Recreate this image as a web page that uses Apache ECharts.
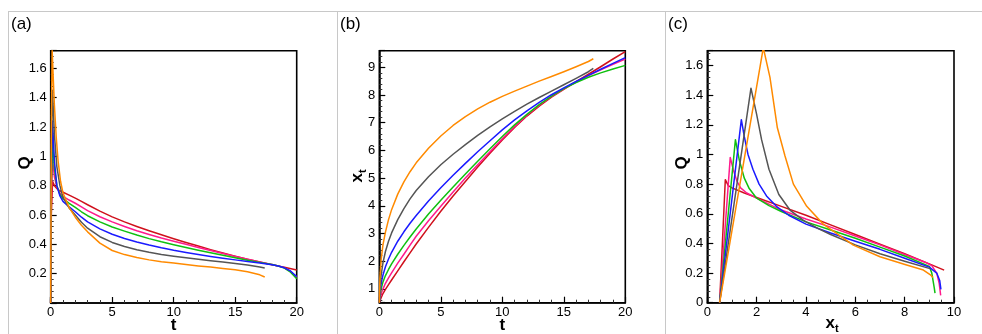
<!DOCTYPE html>
<html>
<head>
<meta charset="utf-8">
<script src="https://cdn.jsdelivr.net/npm/echarts@6/dist/echarts.min.js"></script>
<style>
html,body{margin:0;padding:0;background:#fff;}
#chart{width:982px;height:334px;}
</style>
</head>
<body>
<div id="chart"></div>
<script>
// ---------- Panel (a): Q vs t ----------
const aRedT   = [0,0.05,0.15,0.3,0.5,0.75,1,1.5,2,2.5,3,4,5,6,7,8,9,10,11,12,13,14,15,16,17,18,19,20];
const aRedQ   = [0,0.6,0.83,0.8,0.78,0.765,0.755,0.735,0.715,0.693,0.67,0.626,0.587,0.553,0.522,0.493,0.465,0.438,0.412,0.388,0.364,0.341,0.319,0.298,0.279,0.26,0.243,0.225];
const aLongT  = [0,0.05,0.15,0.3,0.5,0.75,1,1.5,2,2.5,3,4,5,6,7,8,9,10,11,12,13,14,15,16,17,18,18.5,19,19.5,20];
const aPinkQ  = [0,0.7,0.98,0.86,0.79,0.75,0.727,0.702,0.68,0.655,0.63,0.588,0.553,0.522,0.493,0.467,0.443,0.421,0.4,0.379,0.358,0.337,0.317,0.298,0.28,0.263,0.253,0.24,0.215,0.175];
const aGreenQ = [0,0.8,1.1,0.92,0.8,0.74,0.712,0.68,0.652,0.622,0.595,0.553,0.518,0.49,0.463,0.439,0.417,0.397,0.378,0.36,0.342,0.325,0.308,0.292,0.277,0.262,0.252,0.238,0.21,0.165];
const aBlueQ  = [0,0.9,1.24,0.97,0.8,0.73,0.693,0.655,0.622,0.585,0.553,0.505,0.469,0.44,0.416,0.395,0.376,0.359,0.344,0.33,0.317,0.305,0.294,0.283,0.272,0.26,0.252,0.24,0.218,0.18];
const aGrayT  = [0,0.05,0.15,0.3,0.5,0.75,1,1.5,2,2.5,3,4,5,6,7,8,9,10,11,12,13,14,15,16,17,17.4];
const aGrayQ  = [0,1.0,1.45,1.15,0.93,0.8,0.72,0.648,0.6,0.55,0.51,0.452,0.413,0.385,0.363,0.346,0.331,0.319,0.308,0.298,0.288,0.279,0.27,0.259,0.245,0.238];
const aOrangeT = [0,0.05,0.12,0.2,0.3,0.45,0.6,0.8,1,1.5,2,2.5,3,4,5,6,7,8,9,10,11,12,13,14,15,16,17,17.4];
const aOrangeQ = [0,1.2,1.72,1.55,1.35,1.13,0.97,0.83,0.75,0.65,0.585,0.53,0.485,0.408,0.358,0.33,0.31,0.294,0.282,0.272,0.262,0.253,0.245,0.236,0.226,0.213,0.192,0.177];

// ---------- Panel (b): x_t vs t ----------
const bT       = [0,0.05,0.15,0.3,0.5,0.75,1,1.5,2,2.5,3,4,5,6,7,8,9,10,11,12,13,14,15,16,17,18,19,20];
const bRedX    = [0.5,0.56,0.68,0.83,0.98,1.15,1.32,1.65,1.98,2.3,2.62,3.22,3.8,4.35,4.88,5.4,5.9,6.38,6.83,7.24,7.6,7.92,8.2,8.48,8.75,9.02,9.3,9.57];
const bPinkX   = [0.5,0.65,0.82,1.0,1.2,1.4,1.58,1.93,2.25,2.58,2.9,3.46,3.98,4.5,5.0,5.48,5.95,6.42,6.86,7.27,7.63,7.95,8.22,8.47,8.7,8.91,9.11,9.3];
const bGreenX  = [0.5,0.75,1.0,1.25,1.48,1.7,1.9,2.25,2.57,2.87,3.16,3.7,4.2,4.68,5.15,5.61,6.06,6.5,6.92,7.3,7.65,7.96,8.23,8.45,8.64,8.8,8.94,9.07];
const bBlueX   = [0.5,0.85,1.2,1.5,1.8,2.08,2.32,2.72,3.06,3.37,3.65,4.17,4.65,5.1,5.53,5.95,6.35,6.74,7.1,7.43,7.73,8.01,8.26,8.49,8.71,8.93,9.14,9.35];
const bShortT  = [0,0.05,0.15,0.3,0.5,0.75,1,1.5,2,2.5,3,4,5,6,7,8,9,10,11,12,13,14,15,16,17,17.4];
const bGrayX   = [0.5,1.0,1.5,1.95,2.35,2.72,3.02,3.5,3.9,4.25,4.55,5.05,5.48,5.86,6.21,6.54,6.85,7.14,7.41,7.67,7.91,8.14,8.37,8.6,8.84,8.96];
const bOrangeX = [0.5,1.4,2.05,2.6,3.05,3.5,3.86,4.42,4.86,5.23,5.55,6.08,6.52,6.9,7.22,7.5,7.74,7.95,8.14,8.32,8.5,8.67,8.84,9.02,9.21,9.31];

// ---------- Panel (c): Q vs x_t ----------
const cRedX    = [0.5,0.73,0.85,1.0,1.5,2,3,4,5,6,7,8,9,9.6];
const cRedQ    = [0,0.83,0.79,0.775,0.74,0.71,0.65,0.59,0.525,0.46,0.395,0.33,0.262,0.22];
const cPinkX   = [0.5,0.93,1.05,1.2,1.35,1.6,2,3,4,5,6,7,8,8.8,9.1,9.3,9.4,9.46];
const cPinkQ   = [0,0.98,0.9,0.82,0.775,0.74,0.705,0.625,0.565,0.51,0.45,0.39,0.325,0.275,0.25,0.2,0.13,0.05];
const cGreenX  = [0.5,1.14,1.3,1.5,1.7,2,2.5,3,4,5,6,7,8,9.0,9.1,9.2,9.23];
const cGreenQ  = [0,1.1,0.96,0.84,0.77,0.705,0.655,0.615,0.545,0.49,0.435,0.375,0.315,0.245,0.2,0.1,0.065];
const cBlueX   = [0.5,1.38,1.5,1.65,1.85,2.1,2.4,2.8,3.3,4,5,6,7,8,9.0,9.3,9.42,9.47];
const cBlueQ   = [0,1.235,1.12,1.0,0.9,0.8,0.72,0.65,0.59,0.53,0.47,0.415,0.36,0.3,0.24,0.2,0.15,0.09];
const cGrayX   = [0.5,1.77,2.0,2.2,2.5,2.9,3.35,3.9,4.5,5,6,7,8,9.03];
const cGrayQ   = [0,1.447,1.27,1.1,0.9,0.73,0.625,0.555,0.5,0.46,0.39,0.33,0.28,0.23];
const cOrangeX = [0.5,2.27,2.54,2.84,3.15,3.49,4.03,4.7,5.24,5.92,7.0,8.08,8.76,9.03,9.15];
const cOrangeQ = [0,1.72,1.52,1.18,0.99,0.80,0.65,0.53,0.467,0.388,0.31,0.254,0.22,0.19,0.17];

const colors = {red:'#d0101c', pink:'#ff1a8c', green:'#10c010', blue:'#1a1aff', gray:'#555555', orange:'#ff8a00'};
const FONT = '"Liberation Sans", Arial, sans-serif';

function pairs(xs, ys){ return xs.map((v,i)=>[v, ys[i]]); }

const chart = echarts.init(document.getElementById('chart'), null, {renderer:'canvas'});

function axisBase(gi, extra){
  return Object.assign({
    type:'value', gridIndex:gi,
    axisLine:{show:true, onZero:false, lineStyle:{color:'#000', width:1.5}},
    axisTick:{show:true, inside:true, length:6, lineStyle:{color:'#000', width:1.2}},
    minorTick:{show:true, splitNumber:5, length:3, lineStyle:{color:'#333', width:1}},
    splitLine:{show:false},
    axisLabel:{color:'#000', fontSize:13, fontFamily:FONT, margin:3}
  }, extra);
}

function mkSeries(name, gi, data, color){
  return {
    type:'line', name, xAxisIndex:gi, yAxisIndex:gi, data,
    showSymbol:false, symbol:'none', smooth:false,
    lineStyle:{color, width:1.5, join:'round'}, itemStyle:{color}, clip:true,
    animation:false, z:2
  };
}

const grids = [
  {left:50.7, top:50.7, width:246, height:252.3},
  {left:379.3, top:50.7, width:246, height:252},
  {left:707.3, top:50.7, width:246.7, height:252}
].map(g => Object.assign({show:true, borderColor:'#000', borderWidth:1.6, backgroundColor:'transparent', containLabel:false}, g));

const option = {
  animation:false,
  backgroundColor:'#fff',
  grid: grids,
  xAxis:[
    axisBase(0,{min:0,max:20,interval:5}),
    axisBase(1,{min:0,max:20,interval:5}),
    axisBase(2,{min:0,max:10,interval:2, minorTick:{show:true, splitNumber:4, length:3, lineStyle:{color:'#333', width:1}}})
  ],
  yAxis:[
    axisBase(0,{min:0,max:1.72,interval:0.2, axisLabel:{color:'#000', fontSize:13, fontFamily:FONT, margin:4, showMaxLabel:false, formatter:v=> v===0 ? '' : String(v)}}),
    axisBase(1,{min:0.5,max:9.6,splitNumber:9, axisLabel:{color:'#000', fontSize:13, fontFamily:FONT, margin:4, showMinLabel:false, showMaxLabel:false}}),
    axisBase(2,{min:0,max:1.7,interval:0.2, axisLabel:{color:'#000', fontSize:13, fontFamily:FONT, margin:4, showMaxLabel:false}})
  ],
  series:[
    mkSeries('a-red',0,pairs(aRedT,aRedQ),colors.red),
    mkSeries('a-pink',0,pairs(aLongT,aPinkQ),colors.pink),
    mkSeries('a-green',0,pairs(aLongT,aGreenQ),colors.green),
    mkSeries('a-blue',0,pairs(aLongT,aBlueQ),colors.blue),
    mkSeries('a-gray',0,pairs(aGrayT,aGrayQ),colors.gray),
    mkSeries('a-orange',0,pairs(aOrangeT,aOrangeQ),colors.orange),

    mkSeries('b-red',1,pairs(bT,bRedX),colors.red),
    mkSeries('b-pink',1,pairs(bT,bPinkX),colors.pink),
    mkSeries('b-green',1,pairs(bT,bGreenX),colors.green),
    mkSeries('b-blue',1,pairs(bT,bBlueX),colors.blue),
    mkSeries('b-gray',1,pairs(bShortT,bGrayX),colors.gray),
    mkSeries('b-orange',1,pairs(bShortT,bOrangeX),colors.orange),

    mkSeries('c-red',2,pairs(cRedX,cRedQ),colors.red),
    mkSeries('c-pink',2,pairs(cPinkX,cPinkQ),colors.pink),
    mkSeries('c-green',2,pairs(cGreenX,cGreenQ),colors.green),
    mkSeries('c-blue',2,pairs(cBlueX,cBlueQ),colors.blue),
    mkSeries('c-gray',2,pairs(cGrayX,cGrayQ),colors.gray),
    mkSeries('c-orange',2,pairs(cOrangeX,cOrangeQ),colors.orange)
  ],
  graphic:[
    {type:'line', silent:true, shape:{x1:8,y1:11.5,x2:982,y2:11.5}, style:{stroke:'#c8c8c8', lineWidth:1}},
    {type:'line', silent:true, shape:{x1:8.5,y1:11,x2:8.5,y2:334}, style:{stroke:'#c8c8c8', lineWidth:1}},
    {type:'line', silent:true, shape:{x1:337.5,y1:11,x2:337.5,y2:334}, style:{stroke:'#c8c8c8', lineWidth:1}},
    {type:'line', silent:true, shape:{x1:665.5,y1:11,x2:665.5,y2:334}, style:{stroke:'#c8c8c8', lineWidth:1}},

    {type:'text', silent:true, x:11, y:16, style:{text:'(a)', font:'17px '+FONT, fill:'#000', verticalAlign:'top'}},
    {type:'text', silent:true, x:340, y:16, style:{text:'(b)', font:'17px '+FONT, fill:'#000', verticalAlign:'top'}},
    {type:'text', silent:true, x:668, y:16, style:{text:'(c)', font:'17px '+FONT, fill:'#000', verticalAlign:'top'}},

    {type:'text', silent:true, x:173.7, y:325, style:{text:'t', font:'bold 17px '+FONT, fill:'#000', align:'center', verticalAlign:'middle'}},
    {type:'text', silent:true, x:502.3, y:325, style:{text:'t', font:'bold 17px '+FONT, fill:'#000', align:'center', verticalAlign:'middle'}},
    {type:'text', silent:true, x:832, y:323, style:{text:'{a|x}{b|t}', align:'center', verticalAlign:'middle', fill:'#000',
       rich:{a:{font:'bold 17px '+FONT, lineHeight:22, fill:'#000'}, b:{font:'bold 11px '+FONT, lineHeight:12, verticalAlign:'bottom', fill:'#000'}}}},

    {type:'text', silent:true, x:25, y:163, rotation:Math.PI/2, style:{text:'Q', font:'bold 17px '+FONT, fill:'#000', align:'center', verticalAlign:'middle'}},
    {type:'text', silent:true, x:682, y:163, rotation:Math.PI/2, style:{text:'Q', font:'bold 17px '+FONT, fill:'#000', align:'center', verticalAlign:'middle'}},
    {type:'text', silent:true, x:357, y:176, rotation:Math.PI/2, style:{text:'{a|x}{b|t}', align:'center', verticalAlign:'middle', fill:'#000',
       rich:{a:{font:'bold 17px '+FONT, lineHeight:22, fill:'#000'}, b:{font:'bold 11px '+FONT, lineHeight:12, verticalAlign:'bottom', fill:'#000'}}}}
  ]
};
chart.setOption(option);
</script>
</body>
</html>
